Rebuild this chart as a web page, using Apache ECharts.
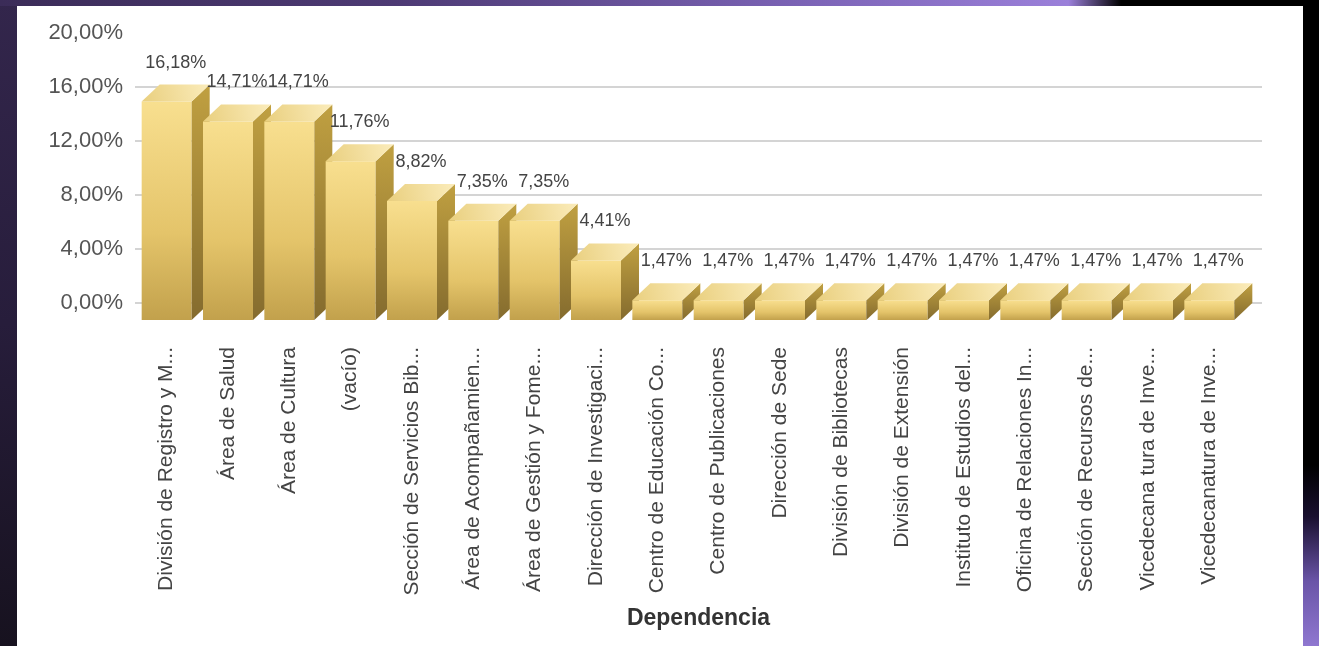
<!DOCTYPE html>
<html>
<head>
<meta charset="utf-8">
<title>Dependencia</title>
<script src="https://cdn.jsdelivr.net/npm/echarts@6/dist/echarts.min.js"></script>
<style>
  html, body { margin: 0; padding: 0; width: 1319px; height: 646px; overflow: hidden; background: #000; }
  .strip-left { position: absolute; left: 0; top: 0; width: 17px; height: 646px;
    background: linear-gradient(180deg, #33264c 0%, #271d3b 50%, #17121f 100%); }
  .strip-top { position: absolute; left: 0; top: 0; width: 1319px; height: 6px;
    background: linear-gradient(90deg, #3b2c58 0%, #4d3a74 30%, #7a62b4 60%, #9b80da 81%, #000 85%, #000 100%); }
  .strip-right { position: absolute; left: 1303px; top: 0; width: 16px; height: 646px;
    background: linear-gradient(180deg, #000 0%, #000 72%, #1a1030 80%, #6a55a8 90%, #8f77d0 100%); }
  #main { position: absolute; left: 17px; top: 6px; width: 1286px; height: 640px; background: #fff; }
</style>
</head>
<body>
<div class="strip-left"></div>
<div class="strip-top"></div>
<div class="strip-right"></div>
<div id="main"></div>
<script>
// datos del gráfico
const categories = [
  'División de Registro y M...', 'Área de Salud', 'Área de Cultura', '(vacío)',
  'Sección de Servicios Bib...', 'Área de Acompañamien...', 'Área de Gestión y Fome...',
  'Dirección de Investigaci...', 'Centro de Educación Co...', 'Centro de Publicaciones',
  'Dirección de Sede', 'División de Bibliotecas', 'División de Extensión',
  'Instituto de Estudios del...', 'Oficina de Relaciones In...', 'Sección de Recursos de...',
  'Vicedecana tura de Inve...', 'Vicedecanatura de Inve...'
];
const values = [16.18, 14.71, 14.71, 11.76, 8.82, 7.35, 7.35, 4.41,
  1.47, 1.47, 1.47, 1.47, 1.47, 1.47, 1.47, 1.47, 1.47, 1.47];
const yTicks = { min: 0, max: 20, interval: 4 };

const fmt = (v) => v.toFixed(2).replace('.', ',') + '%';
const FONT = "'Liberation Sans', Arial, sans-serif";

// profundidad del efecto 3D
const DX = 18, DY = 17;

const chart = echarts.init(document.getElementById('main'));

const frontFill = new echarts.graphic.LinearGradient(0, 0, 0, 1, [
  { offset: 0, color: '#f8df8f' }, { offset: 0.6, color: '#e4c46a' }, { offset: 1, color: '#c2a14c' }
]);
const sideFill = new echarts.graphic.LinearGradient(0, 0, 0, 1, [
  { offset: 0, color: '#c0a041' }, { offset: 1, color: '#846b2e' }
]);
const topFill = new echarts.graphic.LinearGradient(0, 1, 1, 0, [
  { offset: 0, color: '#e9cf7e' }, { offset: 1, color: '#fbecbb' }
]);

const renderBar = (params, api) => {
  const idx = api.value(0);
  const v = api.value(1);
  const top = api.coord([idx, v]);
  const base = api.coord([idx, 0]);
  const w = api.size([1, 0])[0] * 0.815;
  const x0 = top[0] - w / 2, x1 = top[0] + w / 2;
  const yT = top[1] + DY, yB = base[1] + DY;
  return {
    type: 'group',
    children: [
      { type: 'rect', shape: { x: x0, y: yT, width: w, height: yB - yT }, style: { fill: frontFill } },
      { type: 'polygon', shape: { points: [[x1, yT], [x1 + DX, yT - DY], [x1 + DX, yB - DY], [x1, yB]] }, style: { fill: sideFill } },
      { type: 'polygon', shape: { points: [[x0, yT], [x1, yT], [x1 + DX, yT - DY], [x0 + DX, yT - DY]] }, style: { fill: topFill } },
      { type: 'text', z2: 100, style: {
          text: fmt(v), x: top[0] + DX / 2, y: top[1] - 22,
          align: 'center', verticalAlign: 'middle',
          fill: '#444', font: '18px ' + FONT
        } }
    ]
  };
};

let option = {
  animation: false,
  textStyle: { fontFamily: FONT },
  grid: [
    // barras (plano frontal)
    { left: 119, right: 63, top: 27, bottom: 343 },
    // pared del fondo con las líneas
    { left: 118, right: 41, top: 27, bottom: 343 }
  ],
  xAxis: [
    {
      gridIndex: 0, type: 'category', data: categories,
      axisLine: { show: false }, axisTick: { show: false },
      axisLabel: { rotate: 90, interval: 0, margin: 44, color: '#444', fontSize: 21, fontFamily: FONT }
    },
    {
      gridIndex: 1, type: 'category', data: categories,
      axisLine: { show: false }, axisTick: { show: false }, axisLabel: { show: false },
      name: 'Dependencia', nameLocation: 'middle', nameGap: 304,
      nameTextStyle: { fontSize: 23, fontWeight: 'bold', color: '#333', fontFamily: FONT }
    }
  ],
  yAxis: [
    { gridIndex: 0, type: 'value', min: yTicks.min, max: yTicks.max, interval: yTicks.interval, show: false },
    {
      gridIndex: 1, type: 'value', min: yTicks.min, max: yTicks.max, interval: yTicks.interval,
      axisLine: { show: false }, axisTick: { show: false },
      axisLabel: { formatter: fmt, margin: 12, color: '#555', fontSize: 22, fontFamily: FONT },
      splitLine: { showMaxLine: false, lineStyle: { color: '#d4d4d4', width: 2 } }
    }
  ],
  series: [
    {
      type: 'custom',
      xAxisIndex: 0, yAxisIndex: 0,
      clip: false,
      renderItem: renderBar,
      data: values.map((v, i) => [i, v])
    }
  ]
};

chart.setOption(option);
</script>
</body>
</html>
